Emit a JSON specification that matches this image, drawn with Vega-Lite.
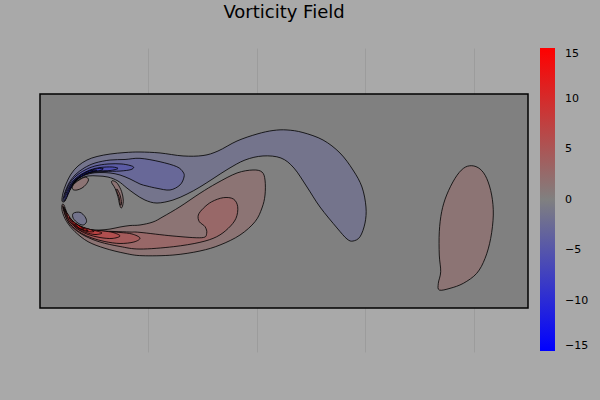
{
  "$schema": "https://vega.github.io/schema/vega-lite/v6.json",
  "autosize": {"type": "none"},
  "padding": {"left": 40, "top": 48, "right": 72, "bottom": 48},
  "width": 488,
  "height": 304,
  "background": "#a9a9a9",
  "view": {"stroke": null},
  "config": {"font": "DejaVu Sans"},
  "title": {
    "text": "Vorticity Field",
    "fontSize": 18,
    "fontWeight": "normal",
    "color": "black",
    "anchor": "middle",
    "frame": "group",
    "offset": 26
  },
  "datasets": {
    "frame": [{"x0": 0, "x1": 4.5, "y0": 0, "y1": 2}],
    "poly": [
      {"id": "a01", "i": 0, "x": 0.203, "y": 1.000, "w": -1.43},
      {"id": "a01", "i": 1, "x": 0.212, "y": 1.075, "w": -1.43},
      {"id": "a01", "i": 2, "x": 0.240, "y": 1.159, "w": -1.43},
      {"id": "a01", "i": 3, "x": 0.286, "y": 1.252, "w": -1.43},
      {"id": "a01", "i": 4, "x": 0.350, "y": 1.327, "w": -1.43},
      {"id": "a01", "i": 5, "x": 0.433, "y": 1.383, "w": -1.43},
      {"id": "a01", "i": 6, "x": 0.526, "y": 1.416, "w": -1.43},
      {"id": "a01", "i": 7, "x": 0.646, "y": 1.439, "w": -1.43},
      {"id": "a01", "i": 8, "x": 0.784, "y": 1.453, "w": -1.43},
      {"id": "a01", "i": 9, "x": 0.922, "y": 1.458, "w": -1.43},
      {"id": "a01", "i": 10, "x": 1.107, "y": 1.449, "w": -1.43},
      {"id": "a01", "i": 11, "x": 1.319, "y": 1.421, "w": -1.43},
      {"id": "a01", "i": 12, "x": 1.503, "y": 1.425, "w": -1.43},
      {"id": "a01", "i": 13, "x": 1.641, "y": 1.467, "w": -1.43},
      {"id": "a01", "i": 14, "x": 1.817, "y": 1.561, "w": -1.43},
      {"id": "a01", "i": 15, "x": 2.001, "y": 1.626, "w": -1.43},
      {"id": "a01", "i": 16, "x": 2.149, "y": 1.659, "w": -1.43},
      {"id": "a01", "i": 17, "x": 2.278, "y": 1.664, "w": -1.43},
      {"id": "a01", "i": 18, "x": 2.425, "y": 1.640, "w": -1.43},
      {"id": "a01", "i": 19, "x": 2.610, "y": 1.570, "w": -1.43},
      {"id": "a01", "i": 20, "x": 2.766, "y": 1.449, "w": -1.43},
      {"id": "a01", "i": 21, "x": 2.886, "y": 1.290, "w": -1.43},
      {"id": "a01", "i": 22, "x": 2.969, "y": 1.131, "w": -1.43},
      {"id": "a01", "i": 23, "x": 3.006, "y": 0.944, "w": -1.43},
      {"id": "a01", "i": 24, "x": 2.997, "y": 0.794, "w": -1.43},
      {"id": "a01", "i": 25, "x": 2.951, "y": 0.666, "w": -1.43},
      {"id": "a01", "i": 26, "x": 2.886, "y": 0.626, "w": -1.43},
      {"id": "a01", "i": 27, "x": 2.831, "y": 0.645, "w": -1.43},
      {"id": "a01", "i": 28, "x": 2.739, "y": 0.748, "w": -1.43},
      {"id": "a01", "i": 29, "x": 2.582, "y": 0.944, "w": -1.43},
      {"id": "a01", "i": 30, "x": 2.462, "y": 1.131, "w": -1.43},
      {"id": "a01", "i": 31, "x": 2.342, "y": 1.308, "w": -1.43},
      {"id": "a01", "i": 32, "x": 2.222, "y": 1.402, "w": -1.43},
      {"id": "a01", "i": 33, "x": 2.056, "y": 1.421, "w": -1.43},
      {"id": "a01", "i": 34, "x": 1.890, "y": 1.383, "w": -1.43},
      {"id": "a01", "i": 35, "x": 1.734, "y": 1.299, "w": -1.43},
      {"id": "a01", "i": 36, "x": 1.605, "y": 1.215, "w": -1.43},
      {"id": "a01", "i": 37, "x": 1.475, "y": 1.131, "w": -1.43},
      {"id": "a01", "i": 38, "x": 1.356, "y": 1.065, "w": -1.43},
      {"id": "a01", "i": 39, "x": 1.226, "y": 1.009, "w": -1.43},
      {"id": "a01", "i": 40, "x": 1.079, "y": 0.981, "w": -1.43},
      {"id": "a01", "i": 41, "x": 0.968, "y": 1.009, "w": -1.43},
      {"id": "a01", "i": 42, "x": 0.876, "y": 1.065, "w": -1.43},
      {"id": "a01", "i": 43, "x": 0.802, "y": 1.121, "w": -1.43},
      {"id": "a01", "i": 44, "x": 0.719, "y": 1.187, "w": -1.43},
      {"id": "a01", "i": 45, "x": 0.627, "y": 1.224, "w": -1.43},
      {"id": "a01", "i": 46, "x": 0.535, "y": 1.234, "w": -1.43},
      {"id": "a01", "i": 47, "x": 0.443, "y": 1.234, "w": -1.43},
      {"id": "a01", "i": 48, "x": 0.369, "y": 1.206, "w": -1.43},
      {"id": "a01", "i": 49, "x": 0.304, "y": 1.150, "w": -1.43},
      {"id": "a01", "i": 50, "x": 0.258, "y": 1.075, "w": -1.43},
      {"id": "a01", "i": 51, "x": 0.231, "y": 1.000, "w": -1.43},

      {"id": "a02", "i": 0, "x": 0.212, "y": 1.009, "w": -2.86},
      {"id": "a02", "i": 1, "x": 0.231, "y": 1.084, "w": -2.86},
      {"id": "a02", "i": 2, "x": 0.267, "y": 1.168, "w": -2.86},
      {"id": "a02", "i": 3, "x": 0.323, "y": 1.243, "w": -2.86},
      {"id": "a02", "i": 4, "x": 0.406, "y": 1.308, "w": -2.86},
      {"id": "a02", "i": 5, "x": 0.507, "y": 1.355, "w": -2.86},
      {"id": "a02", "i": 6, "x": 0.646, "y": 1.383, "w": -2.86},
      {"id": "a02", "i": 7, "x": 0.784, "y": 1.388, "w": -2.86},
      {"id": "a02", "i": 8, "x": 0.922, "y": 1.399, "w": -2.86},
      {"id": "a02", "i": 9, "x": 1.107, "y": 1.367, "w": -2.86},
      {"id": "a02", "i": 10, "x": 1.261, "y": 1.321, "w": -2.86},
      {"id": "a02", "i": 11, "x": 1.319, "y": 1.271, "w": -2.86},
      {"id": "a02", "i": 12, "x": 1.328, "y": 1.224, "w": -2.86},
      {"id": "a02", "i": 13, "x": 1.291, "y": 1.150, "w": -2.86},
      {"id": "a02", "i": 14, "x": 1.199, "y": 1.103, "w": -2.86},
      {"id": "a02", "i": 15, "x": 1.079, "y": 1.119, "w": -2.86},
      {"id": "a02", "i": 16, "x": 0.987, "y": 1.140, "w": -2.86},
      {"id": "a02", "i": 17, "x": 0.922, "y": 1.159, "w": -2.86},
      {"id": "a02", "i": 18, "x": 0.830, "y": 1.206, "w": -2.86},
      {"id": "a02", "i": 19, "x": 0.738, "y": 1.243, "w": -2.86},
      {"id": "a02", "i": 20, "x": 0.646, "y": 1.262, "w": -2.86},
      {"id": "a02", "i": 21, "x": 0.553, "y": 1.266, "w": -2.86},
      {"id": "a02", "i": 22, "x": 0.461, "y": 1.257, "w": -2.86},
      {"id": "a02", "i": 23, "x": 0.378, "y": 1.224, "w": -2.86},
      {"id": "a02", "i": 24, "x": 0.314, "y": 1.168, "w": -2.86},
      {"id": "a02", "i": 25, "x": 0.267, "y": 1.093, "w": -2.86},
      {"id": "a02", "i": 26, "x": 0.231, "y": 1.009, "w": -2.86},

      {"id": "a03", "i": 0, "x": 0.221, "y": 1.019, "w": -4.29},
      {"id": "a03", "i": 1, "x": 0.240, "y": 1.093, "w": -4.29},
      {"id": "a03", "i": 2, "x": 0.277, "y": 1.168, "w": -4.29},
      {"id": "a03", "i": 3, "x": 0.332, "y": 1.234, "w": -4.29},
      {"id": "a03", "i": 4, "x": 0.415, "y": 1.290, "w": -4.29},
      {"id": "a03", "i": 5, "x": 0.507, "y": 1.327, "w": -4.29},
      {"id": "a03", "i": 6, "x": 0.627, "y": 1.346, "w": -4.29},
      {"id": "a03", "i": 7, "x": 0.756, "y": 1.346, "w": -4.29},
      {"id": "a03", "i": 8, "x": 0.858, "y": 1.322, "w": -4.29},
      {"id": "a03", "i": 9, "x": 0.839, "y": 1.294, "w": -4.29},
      {"id": "a03", "i": 10, "x": 0.738, "y": 1.280, "w": -4.29},
      {"id": "a03", "i": 11, "x": 0.599, "y": 1.276, "w": -4.29},
      {"id": "a03", "i": 12, "x": 0.480, "y": 1.266, "w": -4.29},
      {"id": "a03", "i": 13, "x": 0.387, "y": 1.234, "w": -4.29},
      {"id": "a03", "i": 14, "x": 0.323, "y": 1.178, "w": -4.29},
      {"id": "a03", "i": 15, "x": 0.277, "y": 1.103, "w": -4.29},
      {"id": "a03", "i": 16, "x": 0.240, "y": 1.019, "w": -4.29},

      {"id": "a04", "i": 0, "x": 0.231, "y": 1.037, "w": -5.71},
      {"id": "a04", "i": 1, "x": 0.258, "y": 1.112, "w": -5.71},
      {"id": "a04", "i": 2, "x": 0.304, "y": 1.187, "w": -5.71},
      {"id": "a04", "i": 3, "x": 0.369, "y": 1.243, "w": -5.71},
      {"id": "a04", "i": 4, "x": 0.461, "y": 1.290, "w": -5.71},
      {"id": "a04", "i": 5, "x": 0.553, "y": 1.313, "w": -5.71},
      {"id": "a04", "i": 6, "x": 0.664, "y": 1.318, "w": -5.71},
      {"id": "a04", "i": 7, "x": 0.719, "y": 1.304, "w": -5.71},
      {"id": "a04", "i": 8, "x": 0.646, "y": 1.285, "w": -5.71},
      {"id": "a04", "i": 9, "x": 0.526, "y": 1.280, "w": -5.71},
      {"id": "a04", "i": 10, "x": 0.424, "y": 1.257, "w": -5.71},
      {"id": "a04", "i": 11, "x": 0.350, "y": 1.215, "w": -5.71},
      {"id": "a04", "i": 12, "x": 0.295, "y": 1.150, "w": -5.71},
      {"id": "a04", "i": 13, "x": 0.258, "y": 1.075, "w": -5.71},
      {"id": "a04", "i": 14, "x": 0.240, "y": 1.028, "w": -5.71},

      {"id": "a05", "i": 0, "x": 0.249, "y": 1.065, "w": -7.14},
      {"id": "a05", "i": 1, "x": 0.286, "y": 1.150, "w": -7.14},
      {"id": "a05", "i": 2, "x": 0.341, "y": 1.215, "w": -7.14},
      {"id": "a05", "i": 3, "x": 0.415, "y": 1.262, "w": -7.14},
      {"id": "a05", "i": 4, "x": 0.507, "y": 1.299, "w": -7.14},
      {"id": "a05", "i": 5, "x": 0.581, "y": 1.304, "w": -7.14},
      {"id": "a05", "i": 6, "x": 0.553, "y": 1.285, "w": -7.14},
      {"id": "a05", "i": 7, "x": 0.461, "y": 1.271, "w": -7.14},
      {"id": "a05", "i": 8, "x": 0.387, "y": 1.243, "w": -7.14},
      {"id": "a05", "i": 9, "x": 0.332, "y": 1.196, "w": -7.14},
      {"id": "a05", "i": 10, "x": 0.286, "y": 1.131, "w": -7.14},
      {"id": "a05", "i": 11, "x": 0.258, "y": 1.065, "w": -7.14},

      {"id": "a06", "i": 0, "x": 0.277, "y": 1.121, "w": -8.57},
      {"id": "a06", "i": 1, "x": 0.332, "y": 1.196, "w": -8.57},
      {"id": "a06", "i": 2, "x": 0.406, "y": 1.252, "w": -8.57},
      {"id": "a06", "i": 3, "x": 0.480, "y": 1.285, "w": -8.57},
      {"id": "a06", "i": 4, "x": 0.526, "y": 1.285, "w": -8.57},
      {"id": "a06", "i": 5, "x": 0.443, "y": 1.266, "w": -8.57},
      {"id": "a06", "i": 6, "x": 0.369, "y": 1.224, "w": -8.57},
      {"id": "a06", "i": 7, "x": 0.314, "y": 1.178, "w": -8.57},
      {"id": "a06", "i": 8, "x": 0.286, "y": 1.121, "w": -8.57},

      {"id": "a07", "i": 0, "x": 0.369, "y": 1.234, "w": -10},
      {"id": "a07", "i": 1, "x": 0.443, "y": 1.276, "w": -10},
      {"id": "a07", "i": 2, "x": 0.489, "y": 1.280, "w": -10},
      {"id": "a07", "i": 3, "x": 0.424, "y": 1.257, "w": -10},
      {"id": "a07", "i": 4, "x": 0.378, "y": 1.229, "w": -10},

      {"id": "b01", "i": 0, "x": 0.203, "y": 0.963, "w": 1.43},
      {"id": "b01", "i": 1, "x": 0.206, "y": 0.900, "w": 1.43},
      {"id": "b01", "i": 2, "x": 0.246, "y": 0.807, "w": 1.43},
      {"id": "b01", "i": 3, "x": 0.323, "y": 0.713, "w": 1.43},
      {"id": "b01", "i": 4, "x": 0.443, "y": 0.620, "w": 1.43},
      {"id": "b01", "i": 5, "x": 0.599, "y": 0.558, "w": 1.43},
      {"id": "b01", "i": 6, "x": 0.784, "y": 0.511, "w": 1.43},
      {"id": "b01", "i": 7, "x": 0.941, "y": 0.489, "w": 1.43},
      {"id": "b01", "i": 8, "x": 1.226, "y": 0.495, "w": 1.43},
      {"id": "b01", "i": 9, "x": 1.475, "y": 0.533, "w": 1.43},
      {"id": "b01", "i": 10, "x": 1.660, "y": 0.589, "w": 1.43},
      {"id": "b01", "i": 11, "x": 1.844, "y": 0.682, "w": 1.43},
      {"id": "b01", "i": 12, "x": 1.983, "y": 0.807, "w": 1.43},
      {"id": "b01", "i": 13, "x": 2.047, "y": 0.935, "w": 1.43},
      {"id": "b01", "i": 14, "x": 2.075, "y": 1.056, "w": 1.43},
      {"id": "b01", "i": 15, "x": 2.075, "y": 1.196, "w": 1.43},
      {"id": "b01", "i": 16, "x": 2.047, "y": 1.271, "w": 1.43},
      {"id": "b01", "i": 17, "x": 1.964, "y": 1.290, "w": 1.43},
      {"id": "b01", "i": 18, "x": 1.817, "y": 1.262, "w": 1.43},
      {"id": "b01", "i": 19, "x": 1.632, "y": 1.168, "w": 1.43},
      {"id": "b01", "i": 20, "x": 1.475, "y": 1.072, "w": 1.43},
      {"id": "b01", "i": 21, "x": 1.291, "y": 0.947, "w": 1.43},
      {"id": "b01", "i": 22, "x": 1.134, "y": 0.853, "w": 1.43},
      {"id": "b01", "i": 23, "x": 1.042, "y": 0.804, "w": 1.43},
      {"id": "b01", "i": 24, "x": 0.922, "y": 0.776, "w": 1.43},
      {"id": "b01", "i": 25, "x": 0.830, "y": 0.771, "w": 1.43},
      {"id": "b01", "i": 26, "x": 0.738, "y": 0.757, "w": 1.43},
      {"id": "b01", "i": 27, "x": 0.646, "y": 0.738, "w": 1.43},
      {"id": "b01", "i": 28, "x": 0.553, "y": 0.729, "w": 1.43},
      {"id": "b01", "i": 29, "x": 0.461, "y": 0.729, "w": 1.43},
      {"id": "b01", "i": 30, "x": 0.369, "y": 0.748, "w": 1.43},
      {"id": "b01", "i": 31, "x": 0.295, "y": 0.804, "w": 1.43},
      {"id": "b01", "i": 32, "x": 0.249, "y": 0.888, "w": 1.43},
      {"id": "b01", "i": 33, "x": 0.221, "y": 0.963, "w": 1.43},

      {"id": "b02", "i": 0, "x": 0.212, "y": 0.953, "w": 2.86},
      {"id": "b02", "i": 1, "x": 0.231, "y": 0.888, "w": 2.86},
      {"id": "b02", "i": 2, "x": 0.267, "y": 0.822, "w": 2.86},
      {"id": "b02", "i": 3, "x": 0.323, "y": 0.771, "w": 2.86},
      {"id": "b02", "i": 4, "x": 0.387, "y": 0.743, "w": 2.86},
      {"id": "b02", "i": 5, "x": 0.461, "y": 0.729, "w": 2.86},
      {"id": "b02", "i": 6, "x": 0.553, "y": 0.720, "w": 2.86},
      {"id": "b02", "i": 7, "x": 0.692, "y": 0.715, "w": 2.86},
      {"id": "b02", "i": 8, "x": 0.830, "y": 0.710, "w": 2.86},
      {"id": "b02", "i": 9, "x": 0.922, "y": 0.707, "w": 2.86},
      {"id": "b02", "i": 10, "x": 1.226, "y": 0.673, "w": 2.86},
      {"id": "b02", "i": 11, "x": 1.491, "y": 0.657, "w": 2.86},
      {"id": "b02", "i": 12, "x": 1.537, "y": 0.698, "w": 2.86},
      {"id": "b02", "i": 13, "x": 1.522, "y": 0.760, "w": 2.86},
      {"id": "b02", "i": 14, "x": 1.469, "y": 0.807, "w": 2.86},
      {"id": "b02", "i": 15, "x": 1.460, "y": 0.869, "w": 2.86},
      {"id": "b02", "i": 16, "x": 1.506, "y": 0.932, "w": 2.86},
      {"id": "b02", "i": 17, "x": 1.583, "y": 0.993, "w": 2.86},
      {"id": "b02", "i": 18, "x": 1.690, "y": 1.031, "w": 2.86},
      {"id": "b02", "i": 19, "x": 1.783, "y": 1.019, "w": 2.86},
      {"id": "b02", "i": 20, "x": 1.823, "y": 0.947, "w": 2.86},
      {"id": "b02", "i": 21, "x": 1.807, "y": 0.838, "w": 2.86},
      {"id": "b02", "i": 22, "x": 1.736, "y": 0.745, "w": 2.86},
      {"id": "b02", "i": 23, "x": 1.629, "y": 0.666, "w": 2.86},
      {"id": "b02", "i": 24, "x": 1.475, "y": 0.614, "w": 2.86},
      {"id": "b02", "i": 25, "x": 1.229, "y": 0.573, "w": 2.86},
      {"id": "b02", "i": 26, "x": 0.922, "y": 0.551, "w": 2.86},
      {"id": "b02", "i": 27, "x": 0.738, "y": 0.575, "w": 2.86},
      {"id": "b02", "i": 28, "x": 0.553, "y": 0.617, "w": 2.86},
      {"id": "b02", "i": 29, "x": 0.415, "y": 0.673, "w": 2.86},
      {"id": "b02", "i": 30, "x": 0.323, "y": 0.734, "w": 2.86},
      {"id": "b02", "i": 31, "x": 0.267, "y": 0.794, "w": 2.86},
      {"id": "b02", "i": 32, "x": 0.231, "y": 0.869, "w": 2.86},
      {"id": "b02", "i": 33, "x": 0.212, "y": 0.935, "w": 2.86},

      {"id": "b03", "i": 0, "x": 0.221, "y": 0.944, "w": 4.29},
      {"id": "b03", "i": 1, "x": 0.240, "y": 0.888, "w": 4.29},
      {"id": "b03", "i": 2, "x": 0.277, "y": 0.822, "w": 4.29},
      {"id": "b03", "i": 3, "x": 0.332, "y": 0.771, "w": 4.29},
      {"id": "b03", "i": 4, "x": 0.397, "y": 0.743, "w": 4.29},
      {"id": "b03", "i": 5, "x": 0.480, "y": 0.724, "w": 4.29},
      {"id": "b03", "i": 6, "x": 0.599, "y": 0.715, "w": 4.29},
      {"id": "b03", "i": 7, "x": 0.738, "y": 0.706, "w": 4.29},
      {"id": "b03", "i": 8, "x": 0.848, "y": 0.692, "w": 4.29},
      {"id": "b03", "i": 9, "x": 0.922, "y": 0.654, "w": 4.29},
      {"id": "b03", "i": 10, "x": 0.866, "y": 0.617, "w": 4.29},
      {"id": "b03", "i": 11, "x": 0.738, "y": 0.603, "w": 4.29},
      {"id": "b03", "i": 12, "x": 0.599, "y": 0.621, "w": 4.29},
      {"id": "b03", "i": 13, "x": 0.480, "y": 0.654, "w": 4.29},
      {"id": "b03", "i": 14, "x": 0.387, "y": 0.696, "w": 4.29},
      {"id": "b03", "i": 15, "x": 0.314, "y": 0.748, "w": 4.29},
      {"id": "b03", "i": 16, "x": 0.258, "y": 0.813, "w": 4.29},
      {"id": "b03", "i": 17, "x": 0.231, "y": 0.879, "w": 4.29},

      {"id": "b04", "i": 0, "x": 0.231, "y": 0.925, "w": 5.71},
      {"id": "b04", "i": 1, "x": 0.258, "y": 0.860, "w": 5.71},
      {"id": "b04", "i": 2, "x": 0.304, "y": 0.804, "w": 5.71},
      {"id": "b04", "i": 3, "x": 0.369, "y": 0.762, "w": 5.71},
      {"id": "b04", "i": 4, "x": 0.461, "y": 0.734, "w": 5.71},
      {"id": "b04", "i": 5, "x": 0.581, "y": 0.720, "w": 5.71},
      {"id": "b04", "i": 6, "x": 0.673, "y": 0.706, "w": 5.71},
      {"id": "b04", "i": 7, "x": 0.738, "y": 0.673, "w": 5.71},
      {"id": "b04", "i": 8, "x": 0.664, "y": 0.650, "w": 5.71},
      {"id": "b04", "i": 9, "x": 0.553, "y": 0.659, "w": 5.71},
      {"id": "b04", "i": 10, "x": 0.443, "y": 0.687, "w": 5.71},
      {"id": "b04", "i": 11, "x": 0.360, "y": 0.729, "w": 5.71},
      {"id": "b04", "i": 12, "x": 0.295, "y": 0.785, "w": 5.71},
      {"id": "b04", "i": 13, "x": 0.249, "y": 0.850, "w": 5.71},

      {"id": "b05", "i": 0, "x": 0.249, "y": 0.888, "w": 7.14},
      {"id": "b05", "i": 1, "x": 0.286, "y": 0.832, "w": 7.14},
      {"id": "b05", "i": 2, "x": 0.341, "y": 0.780, "w": 7.14},
      {"id": "b05", "i": 3, "x": 0.424, "y": 0.743, "w": 7.14},
      {"id": "b05", "i": 4, "x": 0.507, "y": 0.724, "w": 7.14},
      {"id": "b05", "i": 5, "x": 0.572, "y": 0.701, "w": 7.14},
      {"id": "b05", "i": 6, "x": 0.507, "y": 0.687, "w": 7.14},
      {"id": "b05", "i": 7, "x": 0.424, "y": 0.706, "w": 7.14},
      {"id": "b05", "i": 8, "x": 0.341, "y": 0.743, "w": 7.14},
      {"id": "b05", "i": 9, "x": 0.286, "y": 0.794, "w": 7.14},
      {"id": "b05", "i": 10, "x": 0.258, "y": 0.841, "w": 7.14},

      {"id": "b06", "i": 0, "x": 0.267, "y": 0.850, "w": 8.57},
      {"id": "b06", "i": 1, "x": 0.314, "y": 0.799, "w": 8.57},
      {"id": "b06", "i": 2, "x": 0.378, "y": 0.762, "w": 8.57},
      {"id": "b06", "i": 3, "x": 0.461, "y": 0.734, "w": 8.57},
      {"id": "b06", "i": 4, "x": 0.498, "y": 0.715, "w": 8.57},
      {"id": "b06", "i": 5, "x": 0.434, "y": 0.715, "w": 8.57},
      {"id": "b06", "i": 6, "x": 0.350, "y": 0.748, "w": 8.57},
      {"id": "b06", "i": 7, "x": 0.304, "y": 0.785, "w": 8.57},

      {"id": "b07", "i": 0, "x": 0.295, "y": 0.818, "w": 10},
      {"id": "b07", "i": 1, "x": 0.350, "y": 0.776, "w": 10},
      {"id": "b07", "i": 2, "x": 0.415, "y": 0.743, "w": 10},
      {"id": "b07", "i": 3, "x": 0.443, "y": 0.724, "w": 10},
      {"id": "b07", "i": 4, "x": 0.387, "y": 0.734, "w": 10},
      {"id": "b07", "i": 5, "x": 0.332, "y": 0.766, "w": 10},

      {"id": "b08", "i": 0, "x": 0.323, "y": 0.790, "w": 11.43},
      {"id": "b08", "i": 1, "x": 0.369, "y": 0.762, "w": 11.43},
      {"id": "b08", "i": 2, "x": 0.406, "y": 0.738, "w": 11.43},
      {"id": "b08", "i": 3, "x": 0.360, "y": 0.748, "w": 11.43},

      {"id": "c01", "i": 0, "x": 0.433, "y": 1.220, "w": 1.43},
      {"id": "c01", "i": 1, "x": 0.447, "y": 1.196, "w": 1.43},
      {"id": "c01", "i": 2, "x": 0.424, "y": 1.154, "w": 1.43},
      {"id": "c01", "i": 3, "x": 0.387, "y": 1.121, "w": 1.43},
      {"id": "c01", "i": 4, "x": 0.341, "y": 1.103, "w": 1.43},
      {"id": "c01", "i": 5, "x": 0.304, "y": 1.107, "w": 1.43},
      {"id": "c01", "i": 6, "x": 0.300, "y": 1.136, "w": 1.43},
      {"id": "c01", "i": 7, "x": 0.323, "y": 1.168, "w": 1.43},
      {"id": "c01", "i": 8, "x": 0.369, "y": 1.201, "w": 1.43},
      {"id": "c01", "i": 9, "x": 0.406, "y": 1.220, "w": 1.43},

      {"id": "c02", "i": 0, "x": 0.670, "y": 1.190, "w": 1.43},
      {"id": "c02", "i": 1, "x": 0.713, "y": 1.165, "w": 1.43},
      {"id": "c02", "i": 2, "x": 0.753, "y": 1.087, "w": 1.43},
      {"id": "c02", "i": 3, "x": 0.768, "y": 1.009, "w": 1.43},
      {"id": "c02", "i": 4, "x": 0.761, "y": 0.953, "w": 1.43},
      {"id": "c02", "i": 5, "x": 0.747, "y": 0.935, "w": 1.43},
      {"id": "c02", "i": 6, "x": 0.733, "y": 0.972, "w": 1.43},
      {"id": "c02", "i": 7, "x": 0.719, "y": 1.040, "w": 1.43},
      {"id": "c02", "i": 8, "x": 0.692, "y": 1.119, "w": 1.43},
      {"id": "c02", "i": 9, "x": 0.661, "y": 1.171, "w": 1.43},

      {"id": "c03", "i": 0, "x": 0.710, "y": 1.112, "w": 2.86},
      {"id": "c03", "i": 1, "x": 0.738, "y": 1.056, "w": 2.86},
      {"id": "c03", "i": 2, "x": 0.752, "y": 0.981, "w": 2.86},
      {"id": "c03", "i": 3, "x": 0.742, "y": 0.963, "w": 2.86},
      {"id": "c03", "i": 4, "x": 0.729, "y": 1.037, "w": 2.86},
      {"id": "c03", "i": 5, "x": 0.710, "y": 1.084, "w": 2.86},

      {"id": "c04", "i": 0, "x": 0.307, "y": 0.885, "w": -1.43},
      {"id": "c04", "i": 1, "x": 0.369, "y": 0.894, "w": -1.43},
      {"id": "c04", "i": 2, "x": 0.415, "y": 0.853, "w": -1.43},
      {"id": "c04", "i": 3, "x": 0.429, "y": 0.807, "w": -1.43},
      {"id": "c04", "i": 4, "x": 0.399, "y": 0.776, "w": -1.43},
      {"id": "c04", "i": 5, "x": 0.353, "y": 0.792, "w": -1.43},
      {"id": "c04", "i": 6, "x": 0.307, "y": 0.838, "w": -1.43},

      {"id": "c05", "i": 0, "x": 3.981, "y": 1.330, "w": 1.43},
      {"id": "c05", "i": 1, "x": 4.058, "y": 1.299, "w": 1.43},
      {"id": "c05", "i": 2, "x": 4.119, "y": 1.212, "w": 1.43},
      {"id": "c05", "i": 3, "x": 4.165, "y": 1.056, "w": 1.43},
      {"id": "c05", "i": 4, "x": 4.180, "y": 0.869, "w": 1.43},
      {"id": "c05", "i": 5, "x": 4.156, "y": 0.651, "w": 1.43},
      {"id": "c05", "i": 6, "x": 4.104, "y": 0.464, "w": 1.43},
      {"id": "c05", "i": 7, "x": 4.027, "y": 0.324, "w": 1.43},
      {"id": "c05", "i": 8, "x": 3.904, "y": 0.231, "w": 1.43},
      {"id": "c05", "i": 9, "x": 3.781, "y": 0.184, "w": 1.43},
      {"id": "c05", "i": 10, "x": 3.682, "y": 0.168, "w": 1.43},
      {"id": "c05", "i": 11, "x": 3.673, "y": 0.231, "w": 1.43},
      {"id": "c05", "i": 12, "x": 3.695, "y": 0.339, "w": 1.43},
      {"id": "c05", "i": 13, "x": 3.682, "y": 0.495, "w": 1.43},
      {"id": "c05", "i": 14, "x": 3.682, "y": 0.713, "w": 1.43},
      {"id": "c05", "i": 15, "x": 3.704, "y": 0.900, "w": 1.43},
      {"id": "c05", "i": 16, "x": 3.750, "y": 1.056, "w": 1.43},
      {"id": "c05", "i": 17, "x": 3.827, "y": 1.212, "w": 1.43},
      {"id": "c05", "i": 18, "x": 3.904, "y": 1.305, "w": 1.43}
    ]
  },
  "layer": [
    {
      "data": {"name": "frame"},
      "mark": {"type": "rect", "fill": "#808080", "stroke": "black", "strokeWidth": 1.5},
      "encoding": {
        "x": {
          "field": "x0", "type": "quantitative",
          "scale": {"domain": [0, 4.5], "nice": false, "zero": false},
          "axis": {"values": [1, 2, 3, 4], "grid": true, "gridColor": "#9c9c9c", "ticks": false, "labels": false, "domain": false, "title": null}
        },
        "x2": {"field": "x1"},
        "y": {
          "field": "y0", "type": "quantitative",
          "scale": {"domain": [-0.411, 2.43], "nice": false, "zero": false},
          "axis": null
        },
        "y2": {"field": "y1"}
      }
    },
    {
      "data": {"name": "poly"},
      "mark": {"type": "line", "interpolate": "cardinal-closed", "stroke": "black", "strokeWidth": 0.8},
      "encoding": {
        "x": {"field": "x", "type": "quantitative"},
        "y": {"field": "y", "type": "quantitative"},
        "detail": {"field": "id", "type": "nominal"},
        "order": {"field": "i", "type": "quantitative"},
        "fill": {
          "field": "w", "type": "quantitative",
          "scale": {"domain": [-15, 0, 15], "range": ["#0000ff", "#808080", "#ff0000"], "interpolate": "rgb"},
          "legend": {
            "title": null,
            "orient": "right",
            "offset": 12,
            "gradientLength": 303,
            "gradientThickness": 15,
            "gradientStrokeWidth": 0,
            "values": [-15, -10, -5, 0, 5, 10, 15],
            "labelFontSize": 11,
            "labelColor": "black",
            "labelOffset": 10,
            "labelOverlap": false
          }
        }
      }
    }
  ]
}
